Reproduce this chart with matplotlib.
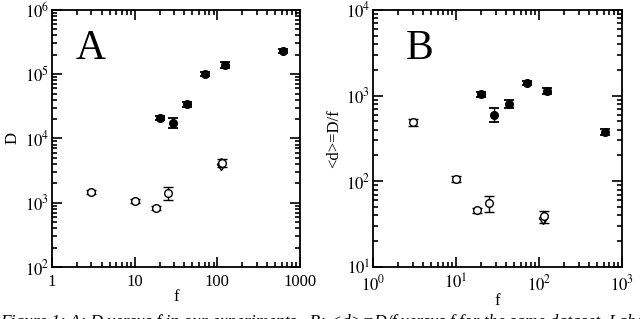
import matplotlib
matplotlib.use("Agg")
import matplotlib.pyplot as plt
from matplotlib.ticker import LogLocator, FixedFormatter, FixedLocator, NullFormatter

plt.rcParams["font.family"] = ["Liberation Serif", "DejaVu Serif"]
plt.rcParams["mathtext.fontset"] = "stix"

# -------------------------------
# DATA
# -------------------------------

f_filled = [20, 29, 43, 71, 124, 615]
f_open = [3, 10, 18, 25, 115]
f_diamond = [112]

D_filled = [2.1e4, 1.75e4, 3.4e4, 1.0e5, 1.4e5, 2.3e5]
D_filled_err = [1.5e3, 3.0e3, 3.4e3, 7.0e3, 1.5e4, 1.6e4]
D_open = [1.47e3, 1.06e3, 8.3e2, 1.42e3, 4.2e3]
D_open_err = [1.0e2, 7.0e1, 6.0e1, 3.3e2, 5.5e2]
D_diamond = [4.0e3]

d_filled = [1045, 600, 800, 1400, 1130, 375]
d_filled_err = [70, 110, 80, 80, 100, 30]
d_open = [490, 106, 46, 56, 39]
d_open_err = [45, 8, 3, 12, 6]
d_diamond = [37]

x_ticks = [1, 10, 100, 1000]
xlabels_A = ["1", "10", "100", "1000"]
xlabels_B = [r"$10^{0}$", r"$10^{1}$", r"$10^{2}$", r"$10^{3}$"]
yticks_A = [1e2, 1e3, 1e4, 1e5, 1e6]
ylabels_A = [r"$10^{2}$", r"$10^{3}$", r"$10^{4}$", r"$10^{5}$", r"$10^{6}$"]
yticks_B = [1e1, 1e2, 1e3, 1e4]
ylabels_B = [r"$10^{1}$", r"$10^{2}$", r"$10^{3}$", r"$10^{4}$"]

caption = ("Figure 1: A: D versus f in our experiments.  B: <d>=D/f versus f for the same dataset. "
           "Labels the lead f")

# -------------------------------
# FIGURE
# -------------------------------

fig = plt.figure(figsize=(6.4, 3.19), dpi=100)
axA = fig.add_axes([0.0813, 0.163, 0.3875, 0.806])
axB = fig.add_axes([0.583, 0.163, 0.389, 0.806])


def draw_panel(ax, yf, yf_err, yo, yo_err, yd, ylim, yticks, ylabels, xlabels, ylabel, letter, lx):
    ax.set_xscale("log")
    ax.set_yscale("log")
    ax.errorbar(f_filled, yf, yerr=yf_err, fmt="o", color="black", ms=5.5,
                capsize=3.8, elinewidth=1, capthick=1.3)
    ax.errorbar(f_open, yo, yerr=yo_err, fmt="o", mfc="white", mec="black", color="black",
                ms=5.5, mew=1, capsize=3.8, elinewidth=1, capthick=1.3)
    ax.plot(f_diamond, yd, "d", mfc="none", mec="black", ms=6, mew=1)
    ax.set_xlim(1, 1000)
    ax.set_ylim(*ylim)
    ax.xaxis.set_major_locator(FixedLocator(x_ticks))
    ax.xaxis.set_major_formatter(FixedFormatter(xlabels))
    ax.yaxis.set_major_locator(FixedLocator(yticks))
    ax.yaxis.set_major_formatter(FixedFormatter(ylabels))
    for axis in (ax.xaxis, ax.yaxis):
        axis.set_minor_locator(LogLocator(base=10, subs=range(2, 10), numticks=20))
        axis.set_minor_formatter(NullFormatter())
    ax.tick_params(which="both", direction="in", top=True, right=True, labelsize=12)
    ax.tick_params(which="major", length=7, width=1.2)
    ax.tick_params(which="minor", length=3.8, width=1.2)
    ax.tick_params(axis="x", pad=5)
    ax.tick_params(axis="y", pad=2)
    for s in ax.spines.values():
        s.set_linewidth(1.3)
    ax.set_xlabel("f", fontsize=12, labelpad=-1)
    ax.set_ylabel(ylabel, fontsize=12, labelpad=3)
    ax.text(lx, 0.81, letter, transform=ax.transAxes, fontsize=30, va="baseline")


draw_panel(axA, D_filled, D_filled_err, D_open, D_open_err, D_diamond, (1e2, 1e6),
           yticks_A, ylabels_A, xlabels_A, "D", "A", 0.097)
draw_panel(axB, d_filled, d_filled_err, d_open, d_open_err, d_diamond, (1e1, 1e4),
           yticks_B, ylabels_B, xlabels_B, "<d>=D/f", "B", 0.13)

# caption runs off the bottom edge, as in the reference crop
fig.text(0.0, -0.034, caption, fontsize=12.5, style="italic", va="bottom", ha="left")

fig.savefig("out.png", dpi=100)
